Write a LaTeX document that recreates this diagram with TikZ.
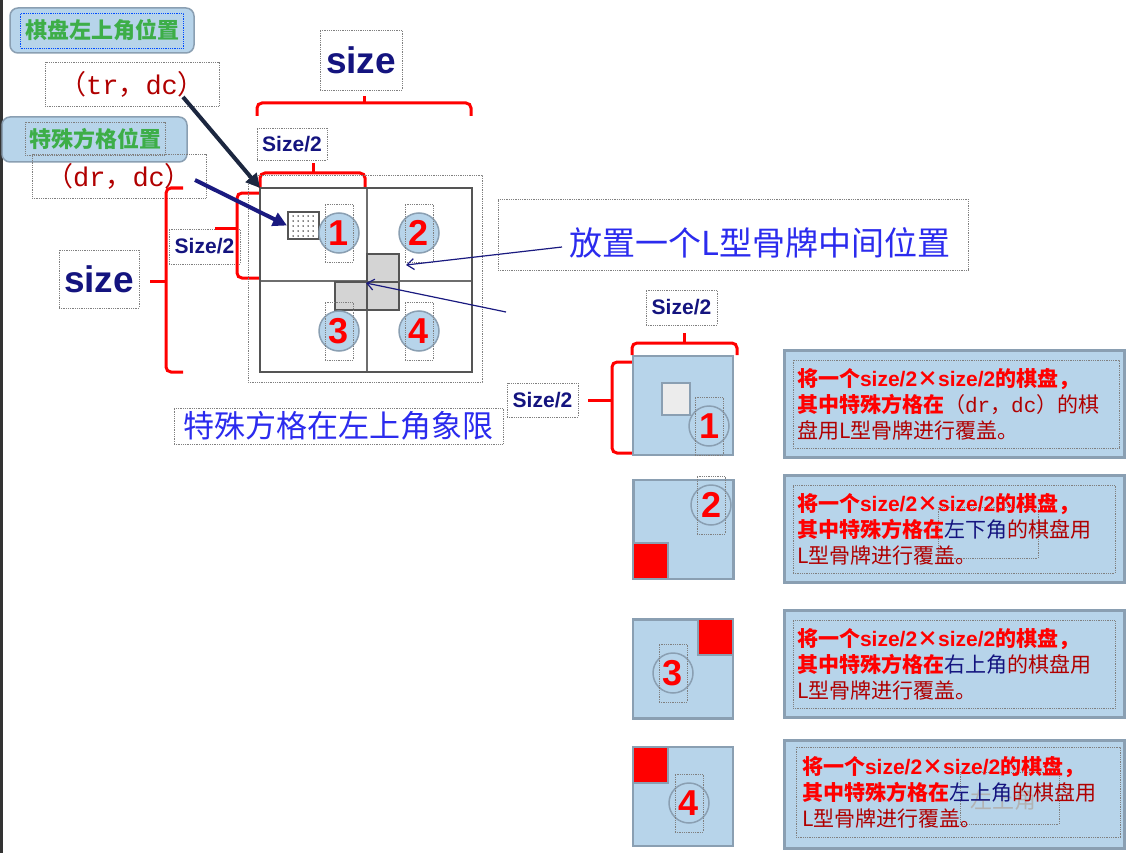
\documentclass[tikz,border=0pt]{standalone}
\usepackage{fontspec}
\setmainfont{Liberation Sans}
\setmonofont{Liberation Mono}
\newfontfamily\cjk{Noto Sans CJK SC}
\usetikzlibrary{arrows.meta, positioning}
\definecolor{boardblue}{HTML}{B7D4EA}
\definecolor{edgegray}{HTML}{8A9FB2}
\definecolor{bracered}{HTML}{FF0000}
\definecolor{darkred}{HTML}{B00000}
\definecolor{navytext}{HTML}{14147F}
\definecolor{hintblue}{HTML}{2B2BEE}
\definecolor{labelgreen}{HTML}{3DAE48}
\definecolor{arrowdark}{HTML}{1C2740}
\definecolor{arrownavy}{HTML}{1A1A80}
\definecolor{tilegray}{HTML}{D4D4D4}
\definecolor{gridgray}{HTML}{555555}

\tikzset{
  dotbox/.style={draw=gray, densely dotted, line width=0.8pt, inner sep=0pt},
  tagbox/.style={draw=edgegray, fill=boardblue, rounded corners=8pt, line width=1.5pt},
  brace/.style={draw=bracered, line width=3pt, rounded corners=5pt},
  numcircle/.style={circle, draw=edgegray, line width=1.5pt, minimum size=40pt, inner sep=0pt},
  numtext/.style={dotbox, font=\fontsize{36}{36}\selectfont\bfseries, text=bracered,
    minimum width=28pt, minimum height=58pt},
  sizetext/.style={dotbox, text=navytext},
  tile/.style={draw=gridgray, fill=tilegray, line width=2pt, minimum width=32pt, minimum height=28pt},
  subboard/.style={draw=edgegray, fill=boardblue, line width=2.5pt, minimum width=100pt, minimum height=99pt},
  redsq/.style={draw=edgegray, fill=red, line width=2pt, minimum width=35pt, minimum height=36pt},
  notebox/.style={draw=edgegray, fill=boardblue, line width=3pt, minimum width=340pt, minimum height=107pt},
  notetext/.style={dotbox, align=left, inner sep=4pt, text=darkred,
    font=\cjk\fontsize{21}{26}\selectfont, minimum height=88pt},
}
\newcommand{\sz}{{\rmfamily size/2}}
\newcommand{\hotred}[1]{{\bfseries\color{bracered}#1}}
\newcommand{\mono}[1]{{\ttfamily #1}}

\begin{document}
\begin{tikzpicture}[x=1pt, y=-1pt]
\useasboundingbox[fill=white] (0,0) rectangle (1142,853);
\fill[black!80] (0,0) rectangle (2.5,853);

% labels at the top left
\node[tagbox, minimum width=184pt, minimum height=45pt] (cornertag) at (102,30.5) {};
\node[draw=blue!70!cyan, densely dotted, line width=0.8pt, inner sep=0pt,
  minimum width=163pt, minimum height=35pt, text=labelgreen,
  font=\cjk\bfseries\fontsize{22}{22}\selectfont] (cornerlbl) at (cornertag) {棋盘左上角位置};
\node[dotbox, minimum width=174pt, minimum height=44pt, text=darkred,
  font=\cjk\fontsize{27}{27}\selectfont] (trdc) at (132,84) {（\mono{tr}，\mono{dc}）};
\node[tagbox, minimum width=185pt, minimum height=45pt] (specialtag) at (94.5,139.5) {};
\node[dotbox, minimum width=140pt, minimum height=33pt, text=labelgreen,
  font=\cjk\bfseries\fontsize{22}{22}\selectfont] (speciallbl) at (95,138.5) {特殊方格位置};
\node[dotbox, minimum width=174pt, minimum height=44pt, text=darkred,
  font=\cjk\fontsize{27}{27}\selectfont] (drdc) at (119,176) {（\mono{dr}，\mono{dc}）};

% size labels
\node[sizetext, minimum width=82pt, minimum height=60pt,
  font=\bfseries\fontsize{37}{37}\selectfont] (sizetop) at (361,60) {size};
\node[sizetext, minimum width=70pt, minimum height=32pt,
  font=\bfseries\fontsize{21}{21}\selectfont] (halftop) at (292,144) {Size/2};
\node[sizetext, minimum width=71pt, minimum height=35pt,
  font=\bfseries\fontsize{21}{21}\selectfont] (halfleft) at (204.5,246.5) {Size/2};
\node[sizetext, minimum width=80pt, minimum height=58pt,
  font=\bfseries\fontsize{37}{37}\selectfont] (sizeleft) at (99,279) {size};

% braces
\draw[brace] (257,116) -- (257,103) -- (471,103) -- (471,116);
\draw[brace] (364,103) -- (364,96);
\draw[brace] (260,188) -- (260,173) -- (365,173) -- (365,188);
\draw[brace] (313,173) -- (313,163);
\draw[brace] (260,193) -- (237,193) -- (237,278) -- (260,278);
\draw[brace] (237,228) -- (215,228);
\draw[brace] (183,188) -- (166,188) -- (166,372) -- (183,372);
\draw[brace] (166,281) -- (150,281);

% the board
\coordinate (gridNW) at (260,188);
\coordinate (gridSE) at (472,372);
\draw[dotbox] (248,175) rectangle (482,382);
\draw[gridgray!85, line width=2.5pt] (367,188) -- (367,372) (260,281) -- (472,281);
\node[tile] (tileA) at (383,268) {};
\node[tile] (tileB) at (351,296) {};
\node[tile] (tileC) at (383,296) {};
\draw[gridgray, line width=2pt] (gridNW) rectangle (gridSE);
\node[draw=gridgray, fill=white, line width=2pt, minimum width=31pt, minimum height=27pt] (special) at (303.5,225.5) {};
\foreach \dx in {293,298,...,316}
  \foreach \dy in {216,221,...,236}
    \fill (\dx,\dy) circle (0.75pt);

\node[numcircle, fill=boardblue] (q1) at (339,233) {};
\node[numtext] (q1num) at (q1) {1};
\node[numcircle, fill=boardblue] (q2) at (419,233) {};
\node[numtext] (q2num) at (q2) {2};
\node[numcircle, fill=boardblue] (q3) at (339,331) {};
\node[numtext] (q3num) at (q3) {3};
\node[numcircle, fill=boardblue] (q4) at (419,331) {};
\node[numtext] (q4num) at (q4) {4};

% pointers
\coordinate (trtail) at (183,97);
\coordinate (drtail) at (195,180);
\draw[arrowdark, line width=4pt, -{Triangle[length=14pt, width=14pt]}] (trtail) -- (gridNW);
\draw[arrownavy, line width=4pt, -{Triangle[length=14pt, width=14pt]}] (drtail) -- (special.west);

\node[dotbox, minimum width=470pt, minimum height=71pt] (lbox) at (733,234.5) {};
\node[text=hintblue, font=\cjk\fontsize{33}{33}\selectfont] (ltext) at (760,243) {放置一个L型骨牌中间位置};
\coordinate (ltail) at (562,247);
\coordinate (ltip) at (406,265);
\coordinate (mtail) at (506,312);
\draw[arrownavy, line width=1.2pt, -{Straight Barb[length=7pt, width=11pt]}] (ltail) -- (ltip);
\draw[arrownavy, line width=1.2pt, -{Straight Barb[length=7pt, width=11pt]}] (mtail) -- (tileA.south west);

\node[dotbox, minimum width=329pt, minimum height=36pt, text=hintblue,
  font=\cjk\fontsize{31}{31}\selectfont] (quadlbl) at (338.5,426) {特殊方格在左上角象限};

% four sub-boards
\node[sizetext, minimum width=71pt, minimum height=35pt,
  font=\bfseries\fontsize{21}{21}\selectfont] (halfright) at (681.5,307.5) {Size/2};
\node[sizetext, minimum width=71pt, minimum height=34pt,
  font=\bfseries\fontsize{21}{21}\selectfont] (halfside) at (542.5,400) {Size/2};
\draw[brace] (632,355) -- (632,343) -- (737,343) -- (737,355);
\draw[brace] (684,343) -- (684,333);
\draw[brace] (633,362) -- (612,362) -- (612,453) -- (633,453);
\draw[brace] (612,400) -- (588,400);

\node[subboard] (b1) at (683,405.5) {};
\node[draw=edgegray, fill=gray!15, line width=2pt, minimum width=28pt, minimum height=32pt] (b1special) at (676,399) {};
\node[numcircle] (b1c) at (709,426) {};
\node[numtext] (b1num) at (b1c) {1};

\node[subboard] (b2) at (683.5,529.5) {};
\node[redsq, anchor=south west] (b2red) at (b2.south west) {};
\node[numcircle] (b2c) at (711,505) {};
\node[numtext] (b2num) at (b2c) {2};

\node[subboard] (b3) at (683,669) {};
\node[redsq, anchor=north east] (b3red) at (b3.north east) {};
\node[numcircle] (b3c) at (673,673) {};
\node[numtext] (b3num) at (b3c) {3};

\node[subboard] (b4) at (683,796.5) {};
\node[redsq, anchor=north west] (b4red) at (b4.north west) {};
\node[numcircle] (b4c) at (689,803) {};
\node[numtext] (b4num) at (b4c) {4};

% notes
\node[notebox] (n1) at (954,403.5) {};
\node[notetext, minimum width=326pt, text width=318pt] (n1text) at (956,404) {%
  \hotred{将一个\sz ×\sz 的棋盘，}\\
  \hotred{其中特殊方格在}（\mono{dr}，\mono{dc}）的棋\\
  盘用L型骨牌进行覆盖。};

\node[notebox] (n2) at (954,528.5) {};
\draw[dotbox] (938,507) rectangle (1038,558);
\node[notetext, minimum width=322pt, text width=314pt] (n2text) at (954,529) {%
  \hotred{将一个\sz ×\sz 的棋盘，}\\
  \hotred{其中特殊方格在}{\color{navytext}左下角}的棋盘用\\
  L型骨牌进行覆盖。};

\node[notebox] (n3) at (954,664) {};
\node[notetext, minimum width=322pt, text width=314pt] (n3text) at (954,664.5) {%
  \hotred{将一个\sz ×\sz 的棋盘，}\\
  \hotred{其中特殊方格在}{\color{navytext}右上角}的棋盘用\\
  L型骨牌进行覆盖。};

\node[notebox, minimum height=108pt] (n4) at (954,794) {};
\node[text=gray!60, font=\cjk\fontsize{22}{22}\selectfont] (n4ghost) at (1003,800) {左上角};
\draw[dotbox] (960,772) rectangle (1059,824);
\node[notetext, minimum width=322pt, minimum height=90pt, text width=312pt, inner sep=6pt] (n4text) at (958,792) {%
  \hotred{将一个\sz ×\sz 的棋盘，}\\
  \hotred{其中特殊方格在}{\color{navytext}左上角}的棋盘用\\
  L型骨牌进行覆盖。};
\end{tikzpicture}
\end{document}
